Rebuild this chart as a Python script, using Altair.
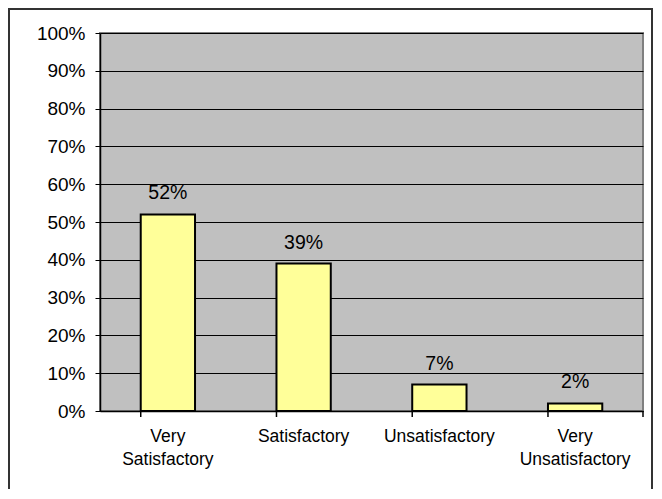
import altair as alt
import pandas as pd

categories = ["Very Satisfactory", "Satisfactory", "Unsatisfactory", "Very Unsatisfactory"]
values = [0.52, 0.39, 0.07, 0.02]
y_ticks = [0, 0.1, 0.2, 0.3, 0.4, 0.5, 0.6, 0.7, 0.8, 0.9, 1.0]

df = pd.DataFrame({"cat": categories, "val": values})

W, H = 543, 378
FONT = "Liberation Sans"

xscale = alt.Scale(domain=categories, paddingInner=0.6, paddingOuter=0.3)
yscale = alt.Scale(domain=[0, 1], nice=False)

xaxis = alt.Axis(labelAngle=0, ticks=False, tickSize=0, labelPadding=16,
                 labelExpr="split(datum.label, ' ')", labelLineHeight=23,
                 labelFontSize=17.5, labelFont=FONT, labelColor="black",
                 labelOverlap=False,
                 domainColor="black", domainWidth=1.5, grid=False)
yaxis = alt.Axis(values=y_ticks, tickCount=20, format=".0%", labelFontSize=19, labelFont=FONT,
                 labelColor="black", tickSize=5, tickColor="black", labelPadding=10,
                 labelOverlap=False,
                 domainColor="black", domainWidth=1.5, grid=True,
                 gridColor="black", gridWidth=1, gridOpacity=1)

base = alt.Chart(df)

bars = base.mark_bar(fill="#FFFF99", stroke="black", strokeWidth=2).encode(
    x=alt.X("cat:N", scale=xscale, sort=categories, title=None, axis=xaxis),
    y=alt.Y("val:Q", scale=yscale, title=None, axis=yaxis),
)

labels = base.mark_text(baseline="alphabetic", dy=-15, fontSize=19.5, font=FONT, color="black").encode(
    x=alt.X("cat:N", scale=xscale, sort=categories, title=None, axis=xaxis),
    y=alt.Y("val:Q", scale=yscale, title=None, axis=yaxis),
    text=alt.Text("val:Q", format=".0%"),
)

xticks = base.mark_rule(color="black", strokeWidth=1.5).encode(
    x=alt.X("cat:N", scale=xscale, sort=categories, bandPosition=0, title=None, axis=xaxis),
    y=alt.value(H), y2=alt.value(H + 6),
)
last_tick = alt.Chart(alt.Data(values=[{}])).mark_rule(color="black", strokeWidth=1.5).encode(
    x=alt.value(W), y=alt.value(H), y2=alt.value(H + 6),
)

frame = alt.Chart(alt.Data(values=[{}])).mark_rect(
    fill=None, stroke="#333333", strokeWidth=2, clip=False
).encode(
    x=alt.value(-91), x2=alt.value(W + 9), y=alt.value(-24), y2=alt.value(H + 120),
)

chart = alt.layer(bars, labels, xticks, last_tick, frame).properties(
    width=W, height=H,
    background="white",
    autosize=alt.AutoSizeParams(type="none"),
    padding={"left": 92, "top": 25, "right": 10, "bottom": 78},
).configure_view(
    fill="#C0C0C0", stroke="#808080", strokeWidth=2
)

chart.save("out.html", embed_options={"renderer": "svg", "actions": False})
